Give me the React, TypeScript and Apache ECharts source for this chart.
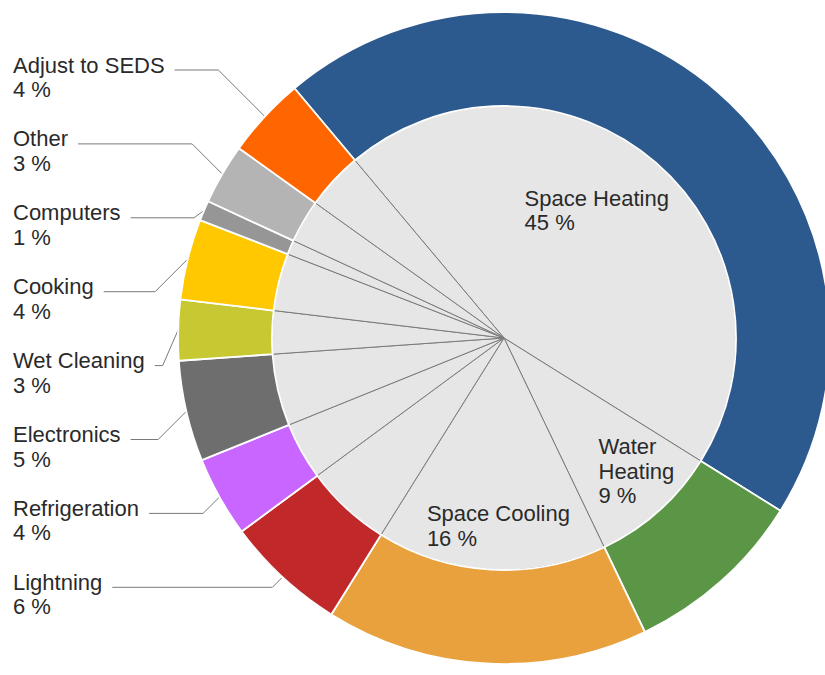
import React, { useEffect, useRef } from 'react';
import * as echarts from 'echarts';

const categories = [
  'Space Heating',
  'Water Heating',
  'Space Cooling',
  'Lightning',
  'Refrigeration',
  'Electronics',
  'Wet Cleaning',
  'Cooking',
  'Computers',
  'Other',
  'Adjust to SEDS',
];
const displayNames = [
  'Space Heating',
  'Water\nHeating',
  'Space Cooling',
  'Lightning',
  'Refrigeration',
  'Electronics',
  'Wet Cleaning',
  'Cooking',
  'Computers',
  'Other',
  'Adjust to SEDS',
];
const shares = [45, 9, 16, 6, 4, 5, 3, 4, 1, 3, 4];
const colors = [
  '#2d5a8e',
  '#5a9646',
  '#e8a13c',
  '#c0282a',
  '#c966ff',
  '#6e6e6e',
  '#c8c832',
  '#ffc800',
  '#969696',
  '#b4b4b4',
  '#ff6600',
];
const insideCount = 3;

// layout constants
const CX = 504;
const CY = 338;
const R_IN = 232;
const R_OUT = 326;
const START = 130;
const FONT_SIZE = 22;
const LINE_H = 24.5;
const FONT = "'Liberation Sans', Arial, sans-serif";
const innerLabelRadius = [0.68, 0.81, 0.81];
const innerLabelTurn = [5, 3, 1.5];
const sideX = 13;
const sideFirstY = 65;
const sideStep = 73.9;

export default function App() {
  const ref = useRef<HTMLDivElement>(null);
  useEffect(() => {
    const chart = echarts.init(ref.current!, undefined, { renderer: 'svg' });
    const total = shares.reduce((a, b) => a + b, 0);
    const cum: number[] = [];
    let acc = 0;
    shares.forEach((v) => {
      cum.push(acc);
      acc += v;
    });
    const midAngle = (i: number) => START - ((cum[i] + shares[i] / 2) / total) * 360;
    const ctx = document.createElement('canvas').getContext('2d')!;
    ctx.font = `${FONT_SIZE}px ${FONT}`;
    const textStyle = { color: '#2a2a2a', fontFamily: FONT, fontSize: FONT_SIZE, lineHeight: LINE_H };
    const fmt = (p: any) => `${displayNames[p.dataIndex]}\n${p.value} %`;

    const innerData = categories.map((name, i) => ({
      name,
      value: shares[i],
      label: { show: i < insideCount },
    }));
    const outerData = categories.map((name, i) => ({
      name,
      value: shares[i],
      itemStyle: { color: colors[i] },
      label: { show: i >= insideCount },
      labelLine: { show: i >= insideCount },
    }));

    chart.setOption({
      animation: false,
      series: [
        {
          type: 'pie',
          silent: true,
          center: [CX, CY],
          radius: [0, R_IN],
          startAngle: START,
          clockwise: true,
          avoidLabelOverlap: false,
          itemStyle: { color: '#e6e6e6', borderColor: '#7a7a7a', borderWidth: 1 },
          label: { position: 'inside', formatter: fmt, ...textStyle, overflow: 'none' },
          labelLine: { show: false },
          emphasis: { disabled: true },
          labelLayout: (p: any) => {
            const i = p.dataIndex;
            const a = ((midAngle(i) + innerLabelTurn[i]) * Math.PI) / 180;
            const r = innerLabelRadius[i] * R_IN;
            const ax = CX + r * Math.cos(a);
            const ay = CY - r * Math.sin(a);
            return {
              x: ax - p.labelRect.width / 2,
              y: ay - p.labelRect.height / 2,
              align: 'left',
              verticalAlign: 'top',
            };
          },
          data: innerData,
        },
        {
          type: 'pie',
          silent: true,
          center: [CX, CY],
          radius: [R_IN, R_OUT],
          startAngle: START,
          clockwise: true,
          avoidLabelOverlap: false,
          itemStyle: { borderColor: '#ffffff', borderWidth: 1.8 },
          label: {
            position: 'outside',
            formatter: fmt,
            ...textStyle,
            overflow: 'none',
            alignTo: 'none',
            bleedMargin: 0,
          },
          labelLine: { length: 10, length2: 10, smooth: false, lineStyle: { color: '#7a7a7a', width: 1 } },
          emphasis: { disabled: true },
          labelLayout: (p: any) => {
            const i = p.dataIndex;
            const slot = categories.length - 1 - i;
            const cy = sideFirstY + slot * sideStep;
            const top = cy - LINE_H / 2;
            const lineY = cy + 5;
            const ring = p.labelLinePoints ? p.labelLinePoints[0] : [CX, CY];
            const tw = ctx.measureText(categories[i]).width;
            const start = sideX + tw + 10;
            let elbow = ring[0] - Math.max(Math.abs(ring[1] - lineY), 10);
            elbow = Math.max(elbow, start + 8);
            return {
              x: sideX,
              y: top,
              align: 'left',
              verticalAlign: 'top',
              labelLinePoints: [
                [ring[0], ring[1]],
                [elbow, lineY],
                [start, lineY],
              ],
            };
          },
          data: outerData,
        },
      ],
    });
    return () => chart.dispose();
  }, []);
  return (
    <div
      ref={ref}
      style={{ position: 'fixed', left: 0, top: 0, width: 825, height: 675, overflow: 'hidden', background: '#fff' }}
    />
  );
}
